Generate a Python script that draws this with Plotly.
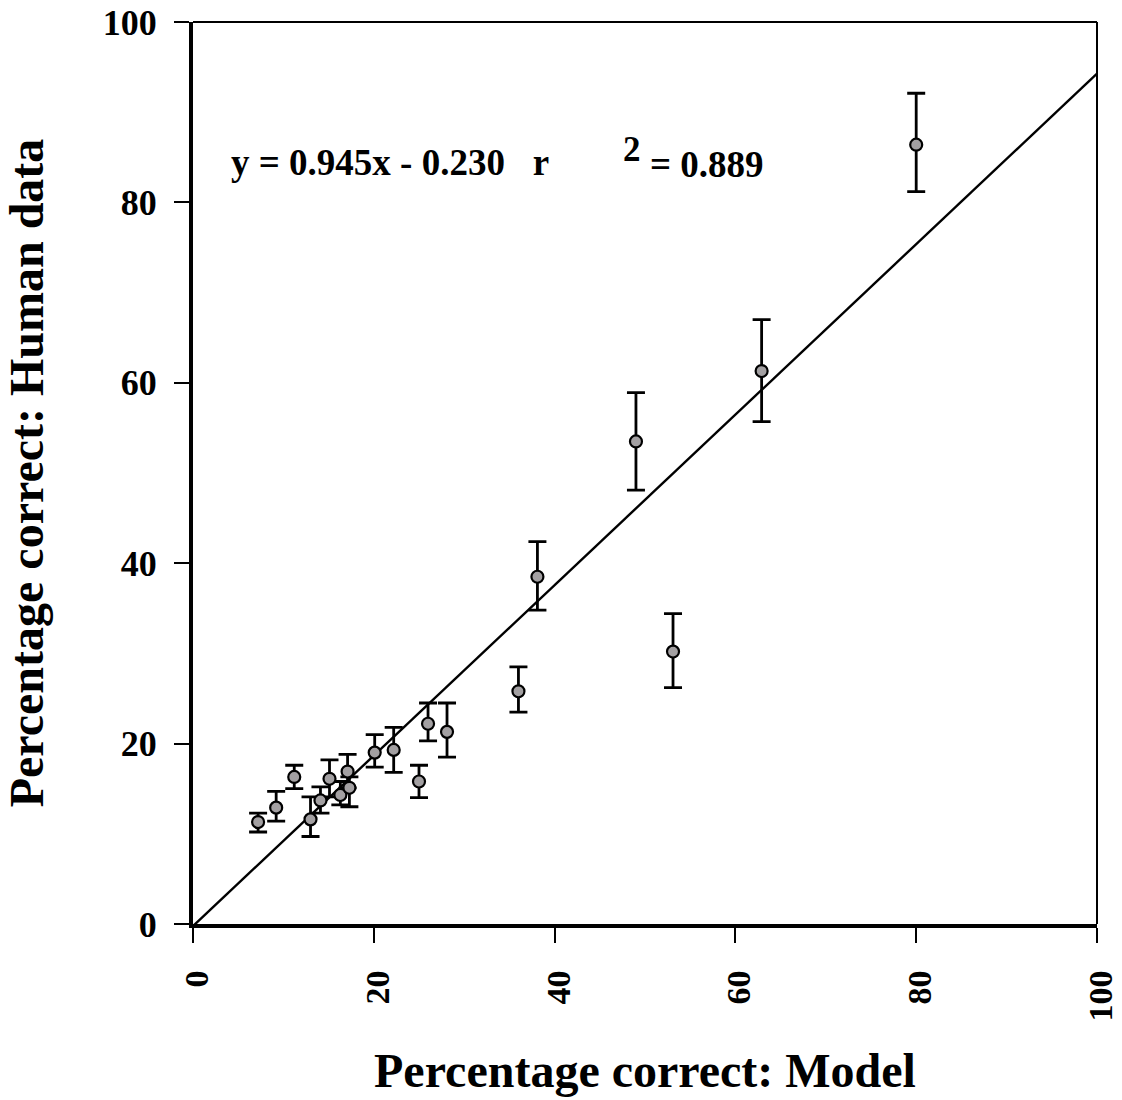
import plotly.graph_objects as go

# Data
model_pct = [7.2, 9.2, 11.2, 13.0, 14.1, 15.1, 16.3, 17.1, 17.3, 20.1,
             22.2, 25.0, 26.0, 28.1, 36.0, 38.1, 49.0, 53.1, 62.9, 80.0]
human_pct = [11.3, 12.9, 16.3, 11.6, 13.7, 16.1, 14.3, 16.9, 15.1, 19.0,
             19.3, 15.8, 22.2, 21.3, 25.8, 38.5, 53.5, 30.2, 61.3, 86.4]
err_plus = [1.0, 1.8, 1.3, 2.5, 1.5, 2.1, 1.5, 1.9, 1.2, 2.0,
            2.5, 1.8, 2.3, 3.2, 2.7, 3.9, 5.4, 4.2, 5.7, 5.7]
err_minus = [1.1, 1.5, 1.3, 1.9, 1.4, 2.0, 1.1, 1.8, 2.1, 1.6,
             2.5, 1.8, 1.9, 2.8, 2.3, 3.7, 5.4, 4.0, 5.6, 5.2]

slope = 0.945
intercept = -0.230
fit_x = [0, 100]
fit_y = [slope * v + intercept for v in fit_x]

tick_vals = [0, 20, 40, 60, 80, 100]
tick_text = ["<b>0</b>", "<b>20</b>", "<b>40</b>", "<b>60</b>", "<b>80</b>", "<b>100</b>"]

FONT = "Liberation Serif"

fig = go.Figure()
fig.add_trace(go.Scatter(
    x=fit_x, y=fit_y, mode="lines",
    line=dict(color="black", width=2.4),
    hoverinfo="skip", showlegend=False, cliponaxis=True,
))
fig.add_trace(go.Scatter(
    x=model_pct, y=human_pct, mode="markers",
    marker=dict(size=12, color="#a3a0a2", line=dict(color="black", width=2.2)),
    error_y=dict(type="data", symmetric=False, array=err_plus, arrayminus=err_minus,
                 color="black", thickness=2.8, width=9),
    showlegend=False,
))

fig.add_annotation(x=4.0, y=84.4, xref="x", yref="y", text="<b>y = 0.945x - 0.230   r</b>",
                   showarrow=False, xanchor="left", yanchor="middle",
                   font=dict(family=FONT, size=37, color="black"))
fig.add_annotation(x=47.3, y=85.9, xref="x", yref="y", text="<b>2</b>",
                   showarrow=False, xanchor="left", yanchor="middle",
                   font=dict(family=FONT, size=35, color="black"))
fig.add_annotation(x=50.3, y=84.2, xref="x", yref="y", text="<b>= 0.889</b>",
                   showarrow=False, xanchor="left", yanchor="middle",
                   font=dict(family=FONT, size=37, color="black"))

# thin top/right frame lines
fig.add_shape(type="line", xref="paper", yref="paper", x0=0, x1=1, y0=1, y1=1,
              line=dict(color="black", width=2))
fig.add_shape(type="line", xref="paper", yref="paper", x0=1, x1=1, y0=0, y1=1,
              line=dict(color="black", width=2))

fig.update_xaxes(
    range=[0, 100], tickvals=tick_vals, ticktext=tick_text,
    showgrid=False, zeroline=False, showline=True, linecolor="black", linewidth=4,
    ticks="outside", ticklen=15, tickwidth=2, tickcolor="black",
    tickangle=-90, ticklabelstandoff=14, ticklabelshift=4,
    ticklabeloverflow="allow",
    tickfont=dict(family=FONT, size=34, color="black"),
    title=dict(text="<b>Percentage correct: Model</b>", standoff=34,
               font=dict(family=FONT, size=48, color="black")),
)
fig.update_yaxes(
    range=[0, 100], tickvals=tick_vals, ticktext=tick_text,
    showgrid=False, zeroline=False, showline=True, linecolor="black", linewidth=4,
    ticks="outside", ticklen=15, tickwidth=2, tickcolor="black",
    ticklabelstandoff=10, ticklabeloverflow="allow",
    tickfont=dict(family=FONT, size=36, color="black"),
    title=dict(text="<b>Percentage correct: Human data</b>", standoff=63,
               font=dict(family=FONT, size=48, color="black")),
)

fig.update_layout(
    width=1122, height=1100,
    margin=dict(l=193, r=25, t=22, b=176, autoexpand=False),
    plot_bgcolor="white", paper_bgcolor="white",
    font=dict(family=FONT, color="black"),
)

# remove the default page margin so the figure fills the window exactly
fig.write_html("out.html", config={"displayModeBar": False},
               post_script="document.body.style.margin='0';document.body.style.overflow='hidden';")
